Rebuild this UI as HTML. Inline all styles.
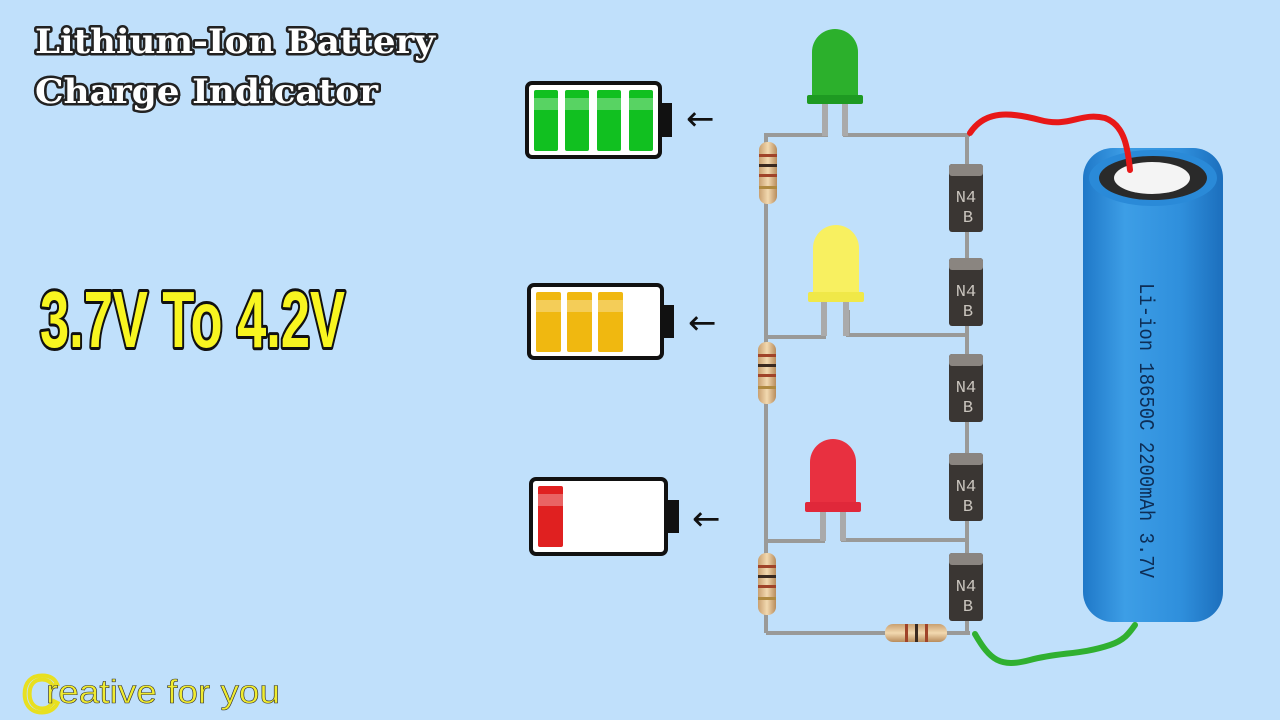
<!DOCTYPE html>
<html><head><meta charset="utf-8"><style>
html,body{margin:0;padding:0;background:#c0e0fb;}
svg{display:block}
</style></head><body>
<svg width="1280" height="720" viewBox="0 0 1280 720" xmlns="http://www.w3.org/2000/svg">
<defs>
<linearGradient id="bat" x1="0" x2="1" y1="0" y2="0">
<stop offset="0" stop-color="#1f78c8"/><stop offset="0.3" stop-color="#3d9ee6"/><stop offset="0.7" stop-color="#2f8fdc"/><stop offset="1" stop-color="#1c6fbd"/></linearGradient>
<linearGradient id="res" x1="0" x2="1"><stop offset="0" stop-color="#c9a070"/><stop offset="0.5" stop-color="#f2d9b0"/><stop offset="1" stop-color="#b88c5c"/></linearGradient>
<linearGradient id="resh" x1="0" x2="0" y1="0" y2="1"><stop offset="0" stop-color="#c9a070"/><stop offset="0.5" stop-color="#f2d9b0"/><stop offset="1" stop-color="#b88c5c"/></linearGradient>
<g id="diode">
<rect x="0" y="0" width="34" height="68" rx="3" fill="#3a3633"/>
<rect x="0" y="0" width="34" height="12" rx="3" fill="#8a8580"/>
<text x="17" y="38" font-family="Liberation Mono,monospace" font-size="17" fill="#c9c4bd" text-anchor="middle">N4</text>
<text x="19" y="58" font-family="Liberation Mono,monospace" font-size="17" fill="#c9c4bd" text-anchor="middle">B</text>
</g>
<g id="resv">
<rect x="-9" y="0" width="18" height="62" rx="8" fill="url(#res)"/>
<rect x="-9" y="12" width="18" height="3" fill="#a0442a"/>
<rect x="-9" y="22" width="18" height="3" fill="#3a2a20"/>
<rect x="-9" y="32" width="18" height="3" fill="#a0442a"/>
<rect x="-9" y="44" width="18" height="3" fill="#b08a40"/>
</g>
</defs>

<!-- Title -->
<g font-family="DejaVu Serif,serif" font-weight="bold" font-size="34" fill="#fff" stroke="#222" stroke-width="5" paint-order="stroke" stroke-linejoin="round">
<text x="35" y="53" textLength="400" lengthAdjust="spacingAndGlyphs">Lithium-Ion Battery</text>
<text x="35" y="103" textLength="343" lengthAdjust="spacingAndGlyphs">Charge Indicator</text>
</g>
<text x="40" y="347" font-family="Liberation Sans,sans-serif" font-weight="bold" font-size="80" fill="#f8f520" stroke="#111" stroke-width="6" paint-order="stroke" stroke-linejoin="round" textLength="305" lengthAdjust="spacingAndGlyphs">3.7V To 4.2V</text>
<!-- logo -->
<text x="22" y="712" font-family="Liberation Sans,sans-serif" font-size="52" fill="none" stroke="#e8e020" stroke-width="4">C</text>
<text x="46" y="703" font-family="Liberation Sans,sans-serif" font-size="33" fill="#f0ec30" stroke="#333" stroke-width="0.6" textLength="234" lengthAdjust="spacingAndGlyphs">reative for you</text>

<!-- battery icons -->
<g>
<rect x="527" y="83" width="133" height="74" rx="5" fill="#fff" stroke="#111" stroke-width="4"/>
<rect x="660" y="103" width="12" height="34" fill="#111"/>
<rect x="534" y="90" width="24" height="61" rx="2" fill="#11c020"/>
<rect x="565" y="90" width="24" height="61" rx="2" fill="#11c020"/>
<rect x="597" y="90" width="24" height="61" rx="2" fill="#11c020"/>
<rect x="629" y="90" width="24" height="61" rx="2" fill="#11c020"/>
<rect x="534" y="98" width="119" height="12" fill="#fff" opacity="0.3"/>
<text x="686" y="130" font-family="DejaVu Sans,sans-serif" font-size="34" fill="#111">←</text>
</g>
<g>
<rect x="529" y="285" width="133" height="73" rx="5" fill="#fff" stroke="#111" stroke-width="4"/>
<rect x="662" y="305" width="12" height="33" fill="#111"/>
<rect x="536" y="292" width="25" height="60" rx="2" fill="#f0b810"/>
<rect x="567" y="292" width="25" height="60" rx="2" fill="#f0b810"/>
<rect x="598" y="292" width="25" height="60" rx="2" fill="#f0b810"/>
<rect x="536" y="300" width="87" height="12" fill="#fff" opacity="0.3"/>
<text x="688" y="334" font-family="DejaVu Sans,sans-serif" font-size="34" fill="#111">←</text>
</g>
<g>
<rect x="531" y="479" width="135" height="75" rx="5" fill="#fff" stroke="#111" stroke-width="4"/>
<rect x="666" y="500" width="13" height="33" fill="#111"/>
<rect x="538" y="486" width="25" height="61" rx="2" fill="#e02020"/>
<rect x="538" y="494" width="25" height="12" fill="#fff" opacity="0.3"/>
<text x="692" y="530" font-family="DejaVu Sans,sans-serif" font-size="34" fill="#111">←</text>
</g>

<!-- wires -->
<g stroke="#9a9a98" stroke-width="4" fill="none">
<line x1="766" y1="133" x2="766" y2="633"/>
<polyline points="766,135 826,135 826,110"/>
<polyline points="845,110 845,135 970,135"/>
<polyline points="766,337 824,337 824,310"/>
<polyline points="848,310 848,335 967,335"/>
<polyline points="766,541 823,541 823,515"/>
<polyline points="843,515 843,540 965,540"/>
<line x1="766" y1="633" x2="970" y2="633"/>
<line x1="967" y1="135" x2="967" y2="633"/>
</g>
<!-- resistors -->
<use href="#resv" x="768" y="142"/>
<use href="#resv" x="767" y="342"/>
<use href="#resv" x="767" y="553"/>
<g transform="translate(885,624)">
<rect x="0" y="0" width="62" height="18" rx="8" fill="url(#resh)"/>
<rect x="20" y="0" width="3" height="18" fill="#a0442a"/>
<rect x="30" y="0" width="3" height="18" fill="#3a2a20"/>
<rect x="40" y="0" width="3" height="18" fill="#a0442a"/>
</g>
<!-- diodes -->
<use href="#diode" x="949" y="164"/>
<use href="#diode" x="949" y="258"/>
<use href="#diode" x="949" y="354"/>
<use href="#diode" x="949" y="453"/>
<use href="#diode" x="949" y="553"/>

<!-- LEDs -->
<g>
<path d="M812,100 L812,52 A23,23 0 0 1 858,52 L858,100 Z" fill="#2cb02c"/>
<rect x="807" y="95" width="56" height="9" rx="2" fill="#1e9a22"/>
<rect x="822" y="104" width="6" height="32" fill="#aaa"/><rect x="842" y="104" width="6" height="32" fill="#aaa"/>
</g>
<g>
<path d="M813,300 L813,248 A23,23 0 0 1 859,248 L859,300 Z" fill="#f8f060"/>
<rect x="808" y="292" width="56" height="10" rx="2" fill="#f0e848"/>
<rect x="821" y="302" width="6" height="34" fill="#aaa"/><rect x="843" y="302" width="6" height="34" fill="#aaa"/>
</g>
<g>
<path d="M810,510 L810,462 A23,23 0 0 1 856,462 L856,510 Z" fill="#e83040"/>
<rect x="805" y="502" width="56" height="10" rx="2" fill="#e0283a"/>
<rect x="820" y="512" width="6" height="29" fill="#aaa"/><rect x="840" y="512" width="6" height="29" fill="#aaa"/>
</g>

<!-- Li-ion cell -->
<g>
<rect x="1083" y="148" width="140" height="474" rx="30" fill="url(#bat)"/>
<ellipse cx="1153" cy="178" rx="64" ry="28" fill="#2a8ad8"/>
<ellipse cx="1153" cy="178" rx="54" ry="22" fill="#2a2a2a"/>
<ellipse cx="1152" cy="178" rx="38" ry="16" fill="#f4f4f4"/>
<text transform="translate(1140,283) rotate(90)" font-family="Liberation Mono,monospace" font-size="21" fill="#0d2d55" textLength="295" lengthAdjust="spacingAndGlyphs">Li-ion 18650C 2200mAh 3.7V</text>
</g>
<!-- red & green leads -->
<path d="M970,133 C985,110 1010,112 1040,120 C1070,128 1080,112 1105,118 C1125,125 1128,150 1130,170" stroke="#e81818" stroke-width="6" fill="none" stroke-linecap="round"/>
<path d="M975,634 C990,660 1000,668 1030,660 C1060,652 1080,655 1110,645 C1125,640 1130,632 1135,625" stroke="#30b030" stroke-width="6" fill="none" stroke-linecap="round"/>
</svg>
</body></html>
